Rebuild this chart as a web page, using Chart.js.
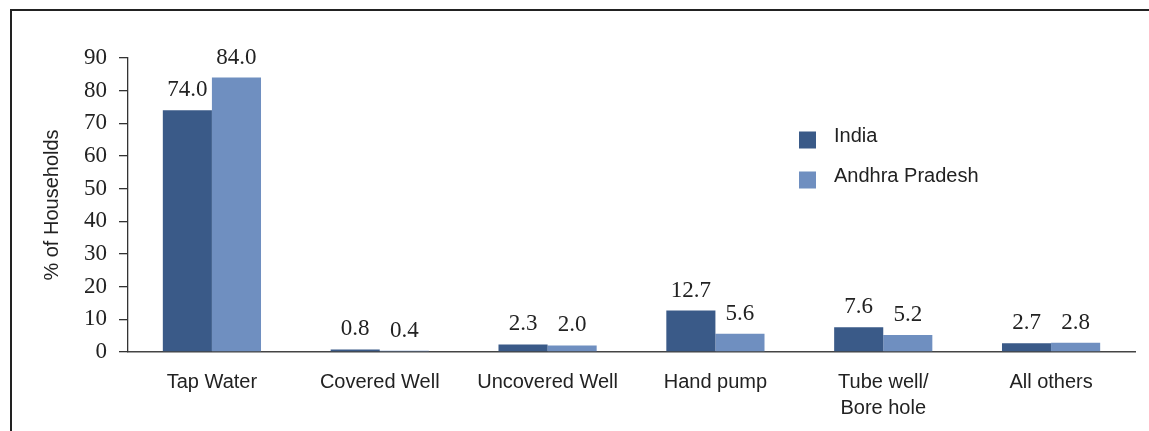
<!DOCTYPE html>
<html>
<head>
<meta charset="utf-8">
<script src="https://cdn.jsdelivr.net/npm/chart.js@4/dist/chart.umd.min.js"></script>
<style>
  html, body { margin: 0; padding: 0; background: #fff; }
  #wrap { position: relative; width: 1149px; height: 431px; overflow: hidden; }
  #frame { position: absolute; left: 10px; top: 9px; width: 1200px; height: 500px;
           border-top: 2.5px solid #222; border-left: 2.5px solid #222; box-sizing: border-box; }
  canvas { position: absolute; left: 0; top: 0; }
</style>
</head>
<body>
<div id="wrap">
  <div id="frame"></div>
  <canvas id="c" width="1149" height="431"></canvas>
</div>
<script>
// Source of drinking water, % of households
const categories = ['Tap Water', 'Covered Well', 'Uncovered Well', 'Hand pump', ['Tube well/', 'Bore hole'], 'All others'];
const indiaValues = [74.0, 0.8, 2.3, 12.7, 7.6, 2.7];
const apValues = [84.0, 0.4, 2.0, 5.6, 5.2, 2.8];
const seriesNames = ['India', 'Andhra Pradesh'];
const yTicks = [0, 10, 20, 30, 40, 50, 60, 70, 80, 90];

const serifFont = "'Liberation Serif', 'Times New Roman', serif";
const narrowFont = "'Liberation Sans Narrow', 'Liberation Sans', Arial, sans-serif";

// value labels above each bar
const valueLabels = {
  id: 'valueLabels',
  afterDatasetsDraw(chart) {
    const ctx = chart.ctx;
    ctx.save();
    ctx.font = '23px ' + serifFont;
    ctx.fillStyle = '#222';
    ctx.textAlign = 'center';
    ctx.textBaseline = 'alphabetic';
    chart.data.datasets.forEach((ds, i) => {
      const meta = chart.getDatasetMeta(i);
      meta.data.forEach((bar, j) => {
        ctx.fillText(ds.data[j].toFixed(1), bar.x, bar.y - 14);
      });
    });
    ctx.restore();
  }
};

// stacked legend inside the plot
const sideLegend = {
  id: 'sideLegend',
  afterDraw(chart, args, opts) {
    const ctx = chart.ctx;
    ctx.save();
    ctx.font = '20px ' + narrowFont;
    ctx.textBaseline = 'middle';
    chart.data.datasets.forEach((ds, i) => {
      const y = opts.y + i * opts.gap;
      ctx.fillStyle = ds.backgroundColor;
      ctx.fillRect(opts.x, y - 8.5, 17, 17);
      ctx.fillStyle = '#222';
      ctx.fillText(ds.label, opts.x + 35, y - 4);
    });
    ctx.restore();
  }
};

new Chart(document.getElementById('c'), {
  type: 'bar',
  data: {
    labels: categories,
    datasets: [
      { label: seriesNames[0], data: indiaValues, backgroundColor: '#3a5a88' },
      { label: seriesNames[1], data: apValues, backgroundColor: '#6f8fc0' }
    ]
  },
  options: {
    responsive: false,
    animation: false,
    devicePixelRatio: 1,
    layout: { padding: { left: 0, top: 58, right: 14, bottom: 0 } },
    datasets: { bar: { categoryPercentage: 0.585, barPercentage: 1.0 } },
    plugins: {
      legend: { display: false },
      tooltip: { enabled: false },
      sideLegend: { x: 799, y: 140, gap: 40 }
    },
    scales: {
      x: {
        grid: { display: false, drawTicks: false },
        border: { display: true, color: '#444', width: 1.5 },
        ticks: { color: '#222', font: { family: narrowFont, size: 20, lineHeight: 1.3 }, padding: 17, maxRotation: 0, autoSkip: false },
        afterFit: s => { s.height = 79; }
      },
      y: {
        min: 0, max: 90,
        afterBuildTicks: s => { s.ticks = yTicks.map(v => ({ value: v })); },
        grid: { display: true, drawOnChartArea: false, drawTicks: true, tickLength: 9, color: '#333', lineWidth: 1.3 },
        border: { display: true, color: '#333', width: 1.3 },
        ticks: { color: '#222', font: { family: serifFont, size: 23 }, padding: 12 },
        title: { display: true, text: '% of Households', color: '#222',
                 font: { family: narrowFont, size: 20 }, padding: { top: 40, bottom: 0 } },
        afterFit: s => { s.width = 128; }
      }
    }
  },
  plugins: [valueLabels, sideLegend]
});
</script>
</body>
</html>
